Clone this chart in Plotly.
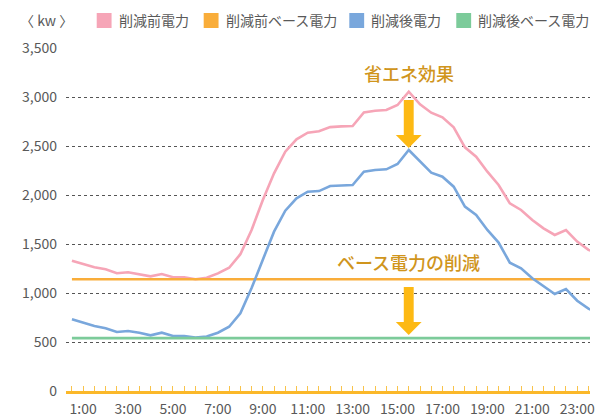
import plotly.graph_objects as go

# ---- data (30-minute readings, 0:30 .. 24:00) ----
hours = [0.5 + 0.5 * i for i in range(48)]
before_power = [1330, 1296, 1262, 1242, 1201, 1211, 1194, 1170, 1194, 1160, 1160, 1140,
                1155, 1200, 1258, 1396, 1643, 1949, 2221, 2442, 2568, 2636, 2650, 2693,
                2700, 2704, 2843, 2860, 2867, 2918, 3054, 2925, 2840, 2792, 2690, 2486,
                2391, 2238, 2102, 1915, 1847, 1745, 1660, 1592, 1643, 1525, 1440, 1400]
after_power = [732, 697, 663, 640, 602, 612, 595, 568, 595, 561, 561, 545,
               556, 595, 656, 793, 1050, 1340, 1626, 1840, 1966, 2034, 2040, 2092,
               2100, 2102, 2238, 2255, 2262, 2316, 2459, 2340, 2228, 2187, 2085, 1881,
               1796, 1643, 1515, 1309, 1252, 1150, 1071, 990, 1041, 921, 840, 790]
before_base = [1140] * 48
after_base = [540] * 48

series_names = ["削減前電力", "削減前ベース電力", "削減後電力", "削減後ベース電力"]
series_colors = ["#F6A5B7", "#F9AD3A", "#79A7DC", "#7CCB9A"]

tick_vals = hours
tick_text = [f"{int(h)}:00" if (h == int(h) and int(h) % 2 == 1) else "" for h in hours]

# ---- geometry helpers (pixel -> paper) ----
L, R, T, B = 66, 595, 48, 391
def px(x):
    return (x - L) / (R - L)
def py(y):
    return (B - y) / (B - T)

fig = go.Figure()
for vals, name, col in zip([before_power, before_base, after_power, after_base],
                           series_names, series_colors):
    fig.add_trace(go.Scatter(x=hours, y=vals, mode="lines", name=name,
                             line=dict(color=col, width=2.6), showlegend=False,
                             hoverinfo="skip"))

font_family = "Noto Sans CJK JP, Noto Sans, sans-serif"
gray = "#595959"
gold = "#D0951C"
arrow_col = "#FDB913"

shapes = []
annotations = []

# legend (manual, squares)
legend_sq_x = [97, 205, 352, 460]
legend_tx_x = [117, 226, 372, 480]
for sx, tx, name, col in zip(legend_sq_x, legend_tx_x, series_names, series_colors):
    shapes.append(dict(type="rect", xref="paper", yref="paper",
                       x0=px(sx), x1=px(sx + 15), y0=py(28), y1=py(13),
                       fillcolor=col, line=dict(width=0)))
    annotations.append(dict(xref="paper", yref="paper", x=px(tx), y=py(20.5),
                            xanchor="left", yanchor="middle", text=name,
                            showarrow=False, font=dict(size=14, color=gray, family=font_family)))

# unit label
annotations.append(dict(xref="paper", yref="paper", x=px(46), y=py(20),
                        xanchor="center", yanchor="middle", text="〈 kw 〉",
                        showarrow=False, font=dict(size=14, color=gray, family=font_family)))

# effect labels
annotations.append(dict(xref="paper", yref="paper", x=px(412), y=py(73),
                        xanchor="center", yanchor="middle", text="省エネ効果",
                        showarrow=False,
                        font=dict(size=18, color=gold, family=font_family, weight=500)))
annotations.append(dict(xref="paper", yref="paper", x=px(412), y=py(262),
                        xanchor="center", yanchor="middle", text="ベース電力の削減",
                        showarrow=False,
                        font=dict(size=18, color=gold, family=font_family, weight=500)))

# arrows
def arrow_path(cx, top, neck, tip, sw=5, hw=13):
    pts = [(cx - sw, top), (cx + sw, top), (cx + sw, neck), (cx + hw, neck),
           (cx, tip), (cx - hw, neck), (cx - sw, neck)]
    return "M " + " L ".join(f"{px(a):.5f},{py(b):.5f}" for a, b in pts) + " Z"

for top, neck, tip in [(100, 135, 148), (287, 322, 335)]:
    shapes.append(dict(type="path", xref="paper", yref="paper",
                       path=arrow_path(412, top, neck, tip),
                       fillcolor=arrow_col, line=dict(width=0)))

fig.update_layout(
    width=595, height=420,
    margin=dict(l=L, r=595 - R, t=T, b=420 - B, pad=0),
    paper_bgcolor="white", plot_bgcolor="white",
    font=dict(family=font_family, size=14, color=gray),
    shapes=shapes, annotations=annotations,
    showlegend=False,
)
fig.update_xaxes(
    range=[0.5 - 6 / 22.67, 0.5 + (R - 72) / 22.67],
    tickmode="array", tickvals=tick_vals, ticktext=tick_text,
    ticks="inside", ticklen=5, tickwidth=1, tickcolor="#F9C34A",
    showline=True, linecolor="#FBB829", linewidth=3,
    showgrid=False, zeroline=False,
    tickfont=dict(size=14, color=gray), ticklabelstandoff=3,
    ticklabeloverflow="allow",
)
fig.update_yaxes(
    range=[0, 3500], dtick=500, tickformat=",",
    showgrid=True, gridcolor="#555555", griddash="dot", gridwidth=1,
    zeroline=False, showline=False, ticks="",
    tickfont=dict(size=14, color=gray), ticklabelstandoff=8,
)

fig.write_html(
    "out.html",
    config={"displayModeBar": False},
    post_script="document.body.style.margin='0';document.body.style.overflow='hidden';",
)
